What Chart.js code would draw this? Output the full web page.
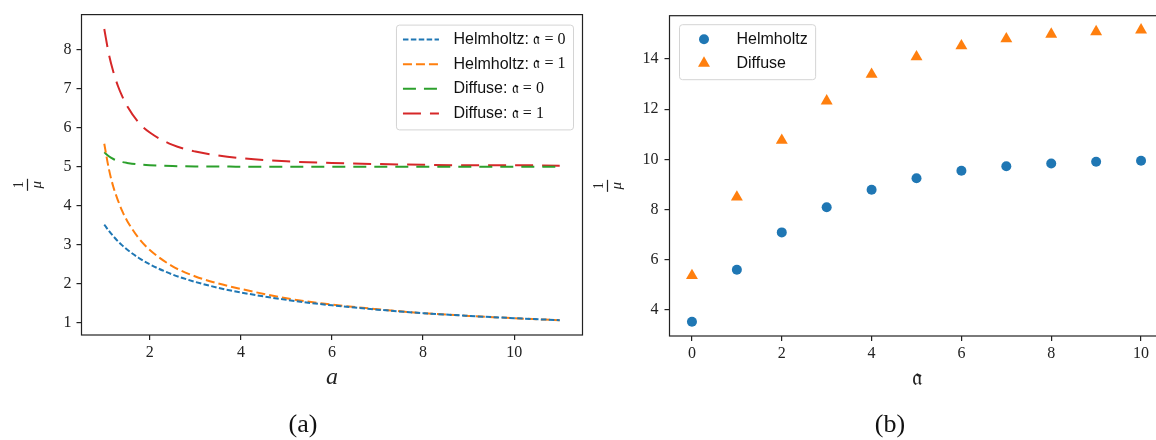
<!DOCTYPE html>
<html>
<head>
<meta charset="utf-8">
<script src="https://cdn.jsdelivr.net/npm/chart.js@4.4.0/dist/chart.umd.min.js"></script>
<style>
  html, body { margin: 0; padding: 0; width: 1156px; height: 440px; overflow: hidden; background: #fff; }
  .panel { position: absolute; top: 0; }
  #left { left: 0; }
  #right { left: 580px; }
  .cap { position: absolute; font-family: "Liberation Serif", serif; font-size: 26px; line-height: 1; color: #111; transform: translateX(-50%); white-space: nowrap; }
</style>
</head>
<body>
<div class="panel" id="left"><canvas id="chartA" width="600" height="440"></canvas></div>
<div class="panel" id="right"><canvas id="chartB" width="600" height="440"></canvas></div>
<div class="cap" style="left:303px; top:411px;">(a)</div>
<div class="cap" style="left:890px; top:411px;">(b)</div>
<script>
// (a) 1/mu against a
const aValues = [1, 1.1, 1.2, 1.3, 1.4, 1.5, 1.75, 2, 2.5, 3, 3.5, 4, 5, 6, 7, 8, 9, 10, 11];
const helmholtz0 = [3.52, 3.36, 3.22, 3.09, 2.98, 2.88, 2.67, 2.50, 2.24, 2.05, 1.90, 1.78, 1.59, 1.45, 1.34, 1.25, 1.18, 1.12, 1.07];
const helmholtz1 = [5.59, 4.95, 4.48, 4.14, 3.85, 3.62, 3.18, 2.87, 2.45, 2.19, 2.01, 1.87, 1.63, 1.47, 1.35, 1.25, 1.18, 1.12, 1.07];
const diffuse0 = [5.37, 5.27, 5.20, 5.15, 5.12, 5.10, 5.06, 5.04, 5.02, 5.01, 5.01, 5.00, 5.00, 5.00, 5.00, 5.00, 5.00, 5.00, 5.00];
const diffuse1 = [8.53, 7.89, 7.43, 7.07, 6.79, 6.56, 6.14, 5.88, 5.56, 5.39, 5.29, 5.22, 5.14, 5.10, 5.07, 5.05, 5.04, 5.04, 5.03];
const ticksAx = [2, 4, 6, 8, 10];
const ticksAy = [1, 2, 3, 4, 5, 6, 7, 8];

// (b) 1/mu against fraktur a
const frakValues = [0, 1, 2, 3, 4, 5, 6, 7, 8, 9, 10];
const helmholtzB = [3.53, 5.60, 7.09, 8.09, 8.79, 9.25, 9.55, 9.73, 9.84, 9.91, 9.95];
const diffuseB = [5.37, 8.50, 10.76, 12.33, 13.39, 14.09, 14.53, 14.81, 14.99, 15.09, 15.16];
const ticksBx = [0, 2, 4, 6, 8, 10];
const ticksBy = [4, 6, 8, 10, 12, 14];

const BLUE = '#1f77b4', ORANGE = '#ff7f0e', GREEN = '#2ca02c', RED = '#d62728';
const INK = '#222';
const SERIF = '"Liberation Serif", "DejaVu Serif", serif';
const MATH = '"Liberation Serif", "DejaVu Serif", "DejaVu Sans", serif';
const SANS = '"Liberation Sans", "DejaVu Sans", sans-serif';

const pts = (xs, ys) => xs.map((x, i) => ({ x, y: ys[i] }));

function lineSet(label, ys, color, dash) {
  return {
    type: 'line', label, data: pts(aValues, ys),
    borderColor: color, borderWidth: 2, borderDash: dash,
    pointRadius: 0, fill: false, cubicInterpolationMode: 'monotone'
  };
}

// frame, y label as fraction, legend box
const deco = {
  id: 'deco',
  afterDraw(chart, args, o) {
    const ctx = chart.ctx, area = chart.chartArea;
    ctx.save();
    ctx.strokeStyle = INK;
    ctx.lineWidth = 1.2;
    ctx.strokeRect(area.left, area.top, area.right - area.left, area.bottom - area.top);

    // 1/mu rotated
    const cx = area.left - o.fracDx, cy = (area.top + area.bottom) / 2 + o.fracDy;
    ctx.translate(cx, cy);
    ctx.rotate(-Math.PI / 2);
    ctx.fillStyle = INK;
    ctx.textAlign = 'center';
    ctx.textBaseline = 'alphabetic';
    ctx.font = '14px ' + SERIF;
    ctx.fillText('1', 0, -5);
    ctx.fillRect(-6, -0.6, 12, 1.2);
    ctx.font = 'italic 15px ' + SERIF;
    ctx.fillText('μ', 0, 13);
    ctx.restore();

    // legend
    const sets = chart.data.datasets;
    ctx.save();
    ctx.textBaseline = 'middle';
    const fs = 16;
    const parts = sets.map(d => {
      const i = d.label.indexOf(':');
      return i < 0 ? [d.label, ''] : [d.label.slice(0, i + 1) + ' ', d.label.slice(i + 1).trim()];
    });
    let maxW = 0;
    parts.forEach(p => {
      ctx.font = fs + 'px ' + SANS;
      let w = ctx.measureText(p[0]).width;
      ctx.font = fs + 'px ' + MATH;
      w += ctx.measureText(p[1]).width;
      maxW = Math.max(maxW, w);
    });
    const handle = 36, rowH = o.rowH;
    const w = 7 + handle + 14.5 + maxW + 7.5;
    const h = 15 + rowH * (sets.length - 1) + 16;
    const bx = o.anchor === 'right' ? area.right - 9.5 - w : area.left + 9.5;
    const by = area.top + o.top;
    ctx.beginPath();
    ctx.roundRect(bx + 0.5, by + 0.5, w, h, 3);
    ctx.fillStyle = 'rgba(255,255,255,0.8)';
    ctx.fill();
    ctx.strokeStyle = '#d4d4d4';
    ctx.lineWidth = 1;
    ctx.stroke();
    sets.forEach((d, i) => {
      const y = by + 15 + i * rowH;
      const hx = bx + 7;
      if (d.type === 'line') {
        ctx.save();
        ctx.strokeStyle = d.borderColor;
        ctx.lineWidth = d.borderWidth;
        ctx.setLineDash(d.borderDash);
        ctx.beginPath();
        ctx.moveTo(hx, y);
        ctx.lineTo(hx + handle, y);
        ctx.stroke();
        ctx.restore();
      } else {
        ctx.save();
        ctx.fillStyle = d.backgroundColor;
        Chart.helpers.drawPoint(ctx, { pointStyle: d.pointStyle, radius: d.pointRadius, rotation: 0, borderWidth: 0 }, hx + handle / 2, y);
        ctx.restore();
      }
      ctx.fillStyle = '#111';
      ctx.textAlign = 'left';
      let tx = hx + handle + 14.5;
      ctx.font = fs + 'px ' + SANS;
      ctx.fillText(parts[i][0], tx, y);
      tx += ctx.measureText(parts[i][0]).width;
      ctx.font = fs + 'px ' + MATH;
      ctx.fillText(parts[i][1], tx, y);
    });
    ctx.restore();
  }
};

function axis(min, max, tickList, pad, size, extra) {
  return Object.assign({
    type: 'linear', min, max,
    afterBuildTicks: s => { s.ticks = tickList.map(v => ({ value: v })); },
    ticks: { font: { family: SERIF, size: 16, lineHeight: 1.2 }, color: INK, maxRotation: 0, padding: pad },
    grid: { drawOnChartArea: false, drawTicks: true, tickLength: 5, color: INK, lineWidth: 1.2 },
    border: { display: false }
  }, extra, size);
}

new Chart(document.getElementById('chartA'), {
  data: {
    datasets: [
      lineSet('Helmholtz: 𝔞 = 0', helmholtz0, BLUE, [5.5, 2.4]),
      lineSet('Helmholtz: 𝔞 = 1', helmholtz1, ORANGE, [9, 4]),
      lineSet('Diffuse: 𝔞 = 0', diffuse0, GREEN, [13, 8]),
      lineSet('Diffuse: 𝔞 = 1', diffuse1, RED, [18, 9])
    ]
  },
  options: {
    responsive: false,
    animation: false,
    layout: { padding: { top: 9, right: 17.5, bottom: 0, left: 0 } },
    plugins: {
      legend: { display: false },
      tooltip: { enabled: false },
      deco: { fracDx: 54, fracDy: 10, anchor: 'right', top: 10, rowH: 24.6 }
    },
    scales: {
      x: axis(0.5, 11.5, ticksAx, 3, { afterFit: s => { s.height = 105; } }, {
        title: { display: true, text: 'a', color: INK, font: { family: SERIF, style: 'italic', size: 24, lineHeight: 1.2 }, padding: { top: 0, bottom: 48 } }
      }),
      y: axis(0.69, 8.90, ticksAy, 5, { afterFit: s => { s.width = 81.5; } }, {})
    }
  },
  plugins: [deco]
});

new Chart(document.getElementById('chartB'), {
  type: 'scatter',
  data: {
    datasets: [
      { type: 'scatter', label: 'Helmholtz', data: pts(frakValues, helmholtzB), pointStyle: 'circle', pointRadius: 5, backgroundColor: BLUE, borderWidth: 0 },
      { type: 'scatter', label: 'Diffuse', data: pts(frakValues, diffuseB), pointStyle: 'triangle', pointRadius: 6.9, backgroundColor: ORANGE, borderWidth: 0 }
    ]
  },
  options: {
    responsive: false,
    animation: false,
    layout: { padding: { top: 15.7, right: 16.5, bottom: 0, left: 0 } },
    plugins: {
      legend: { display: false },
      tooltip: { enabled: false },
      deco: { fracDx: 62, fracDy: 10, anchor: 'left', top: 8.5, rowH: 24 }
    },
    scales: {
      x: axis(-0.5, 10.5, ticksBx, 3, { afterFit: s => { s.height = 104; } }, {
        title: { display: true, text: '𝔞', color: INK, font: { family: MATH, size: 24, lineHeight: 1.2 }, padding: { top: 0, bottom: 47 } }
      }),
      y: axis(2.96, 15.73, ticksBy, 6, { afterFit: s => { s.width = 89.5; } }, {})
    }
  },
  plugins: [deco]
});
</script>
</body>
</html>
